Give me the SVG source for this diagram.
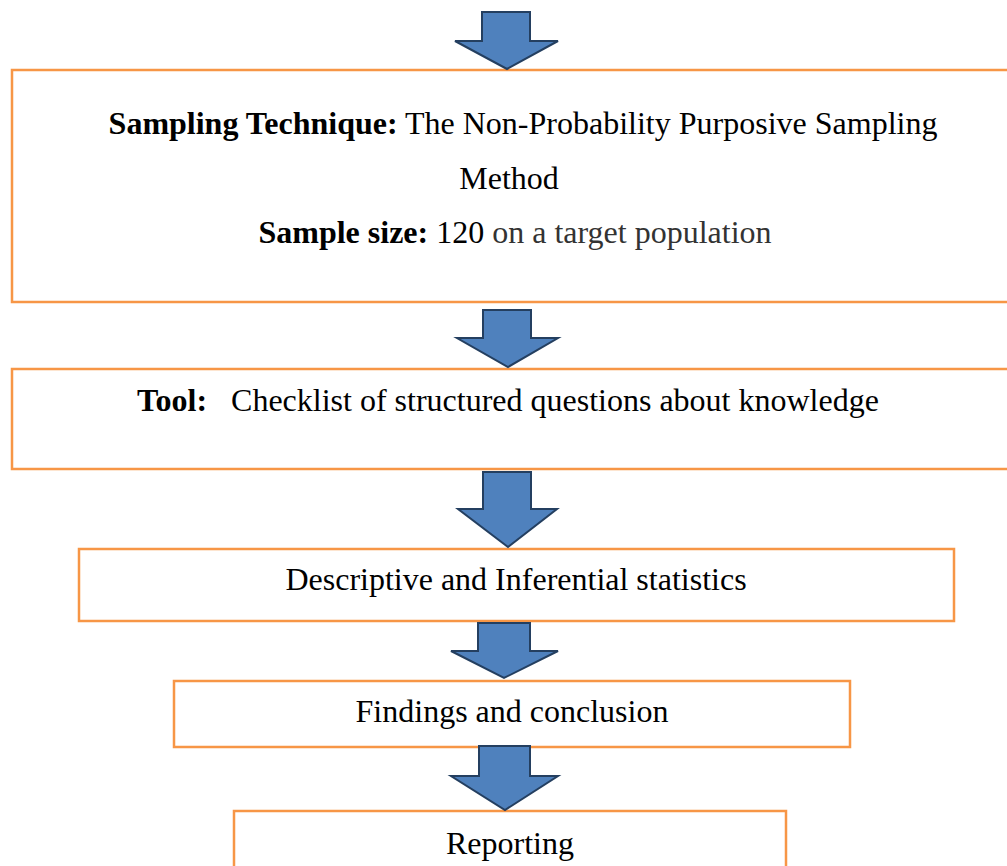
<svg xmlns="http://www.w3.org/2000/svg" width="1007" height="866" viewBox="0 0 1007 866">
<style>
.box{fill:#ffffff;stroke:#f79646;stroke-width:2.5}
.arr{fill:#4f81bd;stroke:#243f60;stroke-width:2;stroke-linejoin:miter}
text{font-family:"Liberation Serif","Times New Roman",serif;font-size:32px;fill:#000;text-anchor:middle}
.b{font-weight:bold}
.g{fill:#333333}
</style>
<rect width="1007" height="866" fill="#ffffff"/>
<g id="n1">
<rect class="box" x="12" y="70" width="1010" height="232"/>
<text x="523" y="134"><tspan class="b">Sampling Technique:</tspan> The Non-Probability Purposive Sampling</text>
<text x="509" y="189">Method</text>
<text x="515" y="243"><tspan class="b">Sample size:</tspan> 120 <tspan class="g">on a target population</tspan></text>
</g>
<g id="n2">
<rect class="box" x="12" y="369" width="1010" height="100"/>
<text x="508" y="411" xml:space="preserve"><tspan class="b">Tool:</tspan>   Checklist of structured questions about knowledge</text>
</g>
<g id="n3">
<rect class="box" x="79" y="549" width="875" height="72"/>
<text x="516" y="590">Descriptive and Inferential statistics</text>
</g>
<g id="n4">
<rect class="box" x="174" y="681" width="676" height="66"/>
<text x="512" y="722">Findings and conclusion</text>
</g>
<g id="n5">
<rect class="box" x="234" y="811" width="552" height="70"/>
<text x="510" y="854">Reporting</text>
</g>
<g id="connectors">
<polygon class="arr" points="482,12 530,12 530,41 558,41 507,69 455,41 482,41"/>
<polygon class="arr" points="483,310 531,310 531,338 558,338 508,367 457,338 483,338"/>
<polygon class="arr" points="483,472 531,472 531,509 557,509 508,547 458,509 483,509"/>
<polygon class="arr" points="478,623 530,623 530,651 558,651 504,678 451,651 478,651"/>
<polygon class="arr" points="479,746 530,746 530,776 558,776 505,810 451,776 479,776"/>
</g>
</svg>
